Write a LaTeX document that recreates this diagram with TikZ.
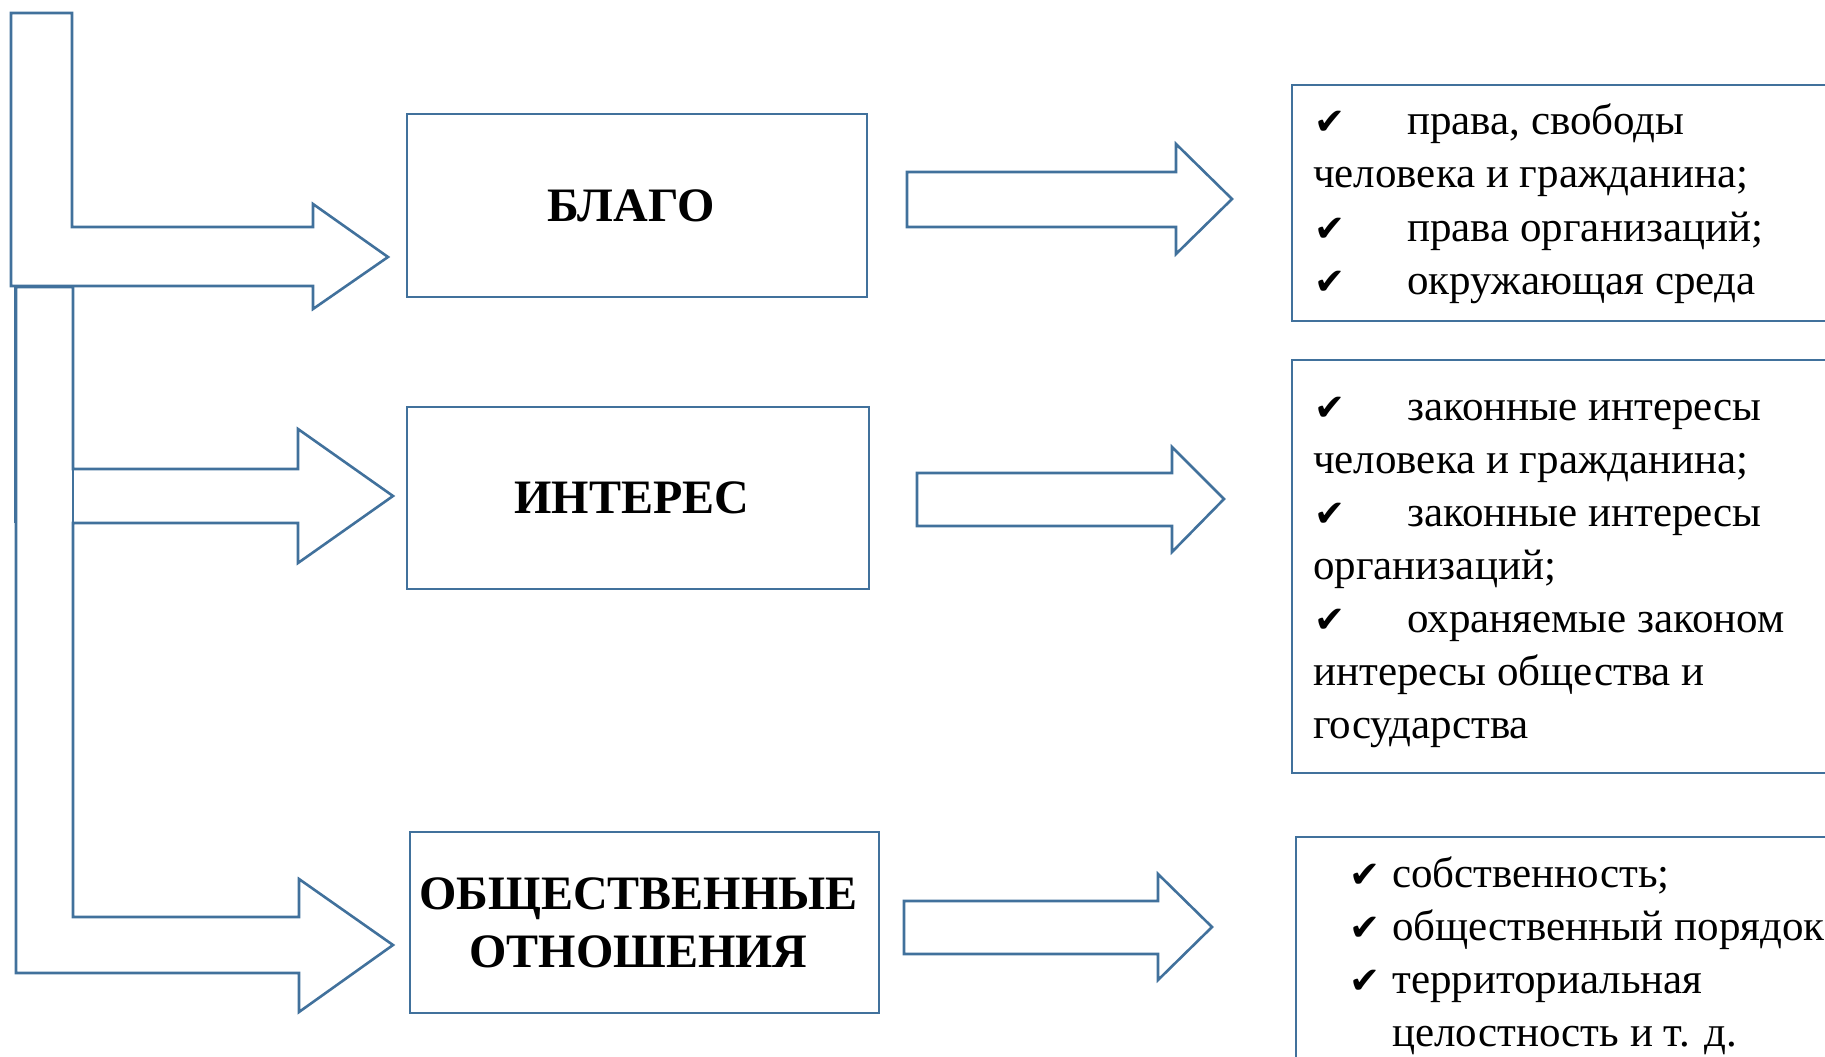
\documentclass[tikz,border=0pt]{standalone}
\usepackage{fontspec}
\setmainfont{Liberation Serif}
\newfontfamily\ckfont{DejaVu Sans}
\definecolor{shapeblue}{RGB}{65,113,156}
\newcommand\ckm[1]{\makebox[#1][l]{\ckfont\fontsize{37}{37}\selectfont ✔}}
\begin{document}
\begin{tikzpicture}[x=1pt,y=-1pt,
  outl/.style={draw=shapeblue,line width=2.6pt,line join=miter},
  titlebox/.style={draw=shapeblue,line width=2.6pt,inner sep=0pt},
  titletext/.style={font=\fontsize{48}{58}\selectfont\bfseries,align=center,inner sep=0pt,xshift=-6pt},
  listline/.style={anchor=base west,inner sep=0pt,font=\fontsize{43}{53}\selectfont},
]
\useasboundingbox (0,0) rectangle (1825,1057);

% left block arrows
\draw[outl] (11,13) -- (72,13) -- (72,227) -- (313,227) -- (313,204) -- (388,257)
  -- (313,309) -- (313,286) -- (11,286) -- cycle;
\draw[outl] (16,287) -- (73,287) -- (73,469) -- (298,469) -- (298,429) -- (393,496)
  -- (298,563) -- (298,523) -- (73,523) -- (73,917) -- (299,917) -- (299,879)
  -- (393,945) -- (299,1012) -- (299,973) -- (16,973) -- cycle;
\draw[outl] (73,469) -- (73,523);
\draw[outl] (15,287) -- (15,523);

% central boxes
\node[titlebox,minimum width=460pt,minimum height=183pt] (blago) at (637,205.5) {};
\node[titlebox,minimum width=462pt,minimum height=182pt] (interes) at (638,498) {};
\node[titlebox,minimum width=469pt,minimum height=181pt] (otnosh) at (644.5,922.5) {};
\node[titletext] (blagoT) at (blago.center) {БЛАГО};
\node[titletext] (interesT) at (interes.center) {ИНТЕРЕС};
\node[titletext] (otnoshT) at (otnosh.center) {ОБЩЕСТВЕННЫЕ\\ОТНОШЕНИЯ};

% right block arrows
\draw[outl] (907,172) -- (1176,172) -- (1176,144) -- (1232,199) -- (1176,254) -- (1176,227) -- (907,227) -- cycle;
\draw[outl] (917,473) -- (1172,473) -- (1172,447) -- (1224,499) -- (1172,552) -- (1172,526) -- (917,526) -- cycle;
\draw[outl] (904,901) -- (1158,901) -- (1158,874) -- (1212,927) -- (1158,980) -- (1158,954) -- (904,954) -- cycle;

% right frames
\draw[outl] (1825,85) -- (1292,85) -- (1292,321) -- (1825,321);
\draw[outl] (1825,360) -- (1292,360) -- (1292,773) -- (1825,773);
\draw[outl] (1825,837) -- (1296,837) -- (1296,1057);

% top list
\node[listline] (a1) at (1314,134) {\ckm{93pt}права, свободы};
\node[listline] (a2) at (1313,187) {человека и гражданина;};
\node[listline] (a3) at (1314,241) {\ckm{93pt}права организаций;};
\node[listline] (a4) at (1314,294) {\ckm{93pt}окружающая среда};

% middle list
\node[listline] (b1) at (1314,420) {\ckm{93pt}законные интересы};
\node[listline] (b2) at (1313,473) {человека и гражданина;};
\node[listline] (b3) at (1314,526) {\ckm{93pt}законные интересы};
\node[listline] (b4) at (1313,579) {организаций;};
\node[listline] (b5) at (1314,632) {\ckm{93pt}охраняемые законом};
\node[listline] (b6) at (1313,685) {интересы общества и};
\node[listline] (b7) at (1313,738) {государства};

% bottom list
\node[listline] (c1) at (1349,887) {\ckm{43pt}собственность;};
\node[listline] (c2) at (1349,940) {\ckm{43pt}общественный порядок;};
\node[listline] (c3) at (1349,993) {\ckm{43pt}территориальная};
\node[listline] (c4) at (1392,1046) {целостность и т. д.};
\end{tikzpicture}
\end{document}
